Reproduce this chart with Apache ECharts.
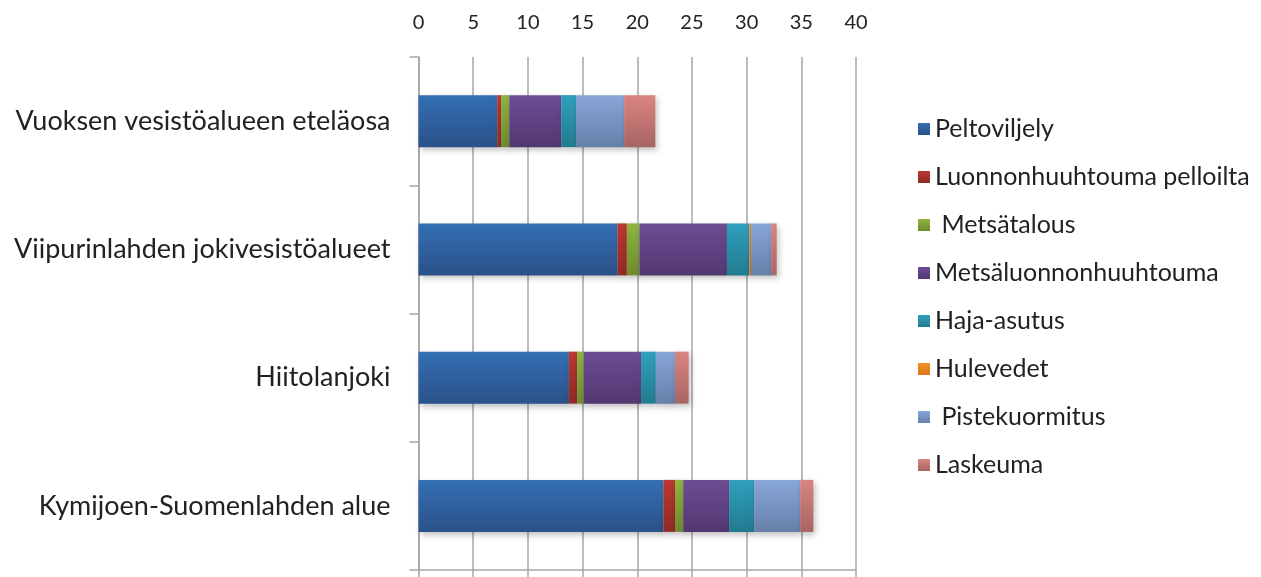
<!DOCTYPE html>
<html>
<head>
<meta charset="utf-8">
<script src="https://cdn.jsdelivr.net/npm/echarts@6/dist/echarts.min.js"></script>
<style>html,body{margin:0;padding:0;background:#fff}#c{width:1261px;height:577px}</style>
</head>
<body>
<div id="c"></div>
<script>
const categories = ['Vuoksen vesistöalueen eteläosa', 'Viipurinlahden jokivesistöalueet', 'Hiitolanjoki', 'Kymijoen-Suomenlahden alue'];
const seriesNames = ['Peltoviljely', 'Luonnonhuuhtouma pelloilta', ' Metsätalous', 'Metsäluonnonhuuhtouma', 'Haja-asutus', 'Hulevedet', ' Pistekuormitus', 'Laskeuma'];
const peltoviljely = [7.2, 18.2, 13.75, 22.4];
const luonnonhuuhtouma = [0.35, 0.85, 0.75, 1.05];
const metsatalous = [0.75, 1.15, 0.6, 0.75];
const metsaluonnon = [4.75, 8.0, 5.25, 4.2];
const hajaasutus = [1.35, 2.05, 1.35, 2.3];
const hulevedet = [0, 0.15, 0, 0];
const pistekuormitus = [4.4, 1.85, 1.75, 4.2];
const laskeuma = [2.85, 0.5, 1.25, 1.2];
const valueTicks = [0, 5, 10, 15, 20, 25, 30, 35, 40];

const seriesData = [peltoviljely, luonnonhuuhtouma, metsatalous, metsaluonnon, hajaasutus, hulevedet, pistekuormitus, laskeuma];
const gradients = [
  ['#346fb4', '#2a5189'],
  ['#bd3731', '#8f2a27'],
  ['#8db53e', '#6f8b2f'],
  ['#6e4c94', '#523870'],
  ['#2fa0bd', '#227b90'],
  ['#f5901f', '#d9761a'],
  ['#88a6d8', '#6680aa'],
  ['#da8480', '#a86563']
];
const FONT = 'Lato';
const chart = echarts.init(document.getElementById('c'));
chart.setOption({
  animation: false,
  backgroundColor: '#fff',
  textStyle: { fontFamily: FONT },
  grid: { left: 418.5, right: 1261 - 856, top: 57, bottom: 7, containLabel: false },
  legend: {
    orient: 'vertical', left: 913, top: 111.5,
    itemWidth: 12, itemHeight: 12, itemGap: 23,
    icon: 'rect',
    textStyle: { fontFamily: FONT, fontSize: 25, color: '#222', lineHeight: 25, padding: [0, 0, 0, 0] },
    data: seriesNames
  },
  xAxis: [{
    type: 'value', position: 'top', min: 0, max: 40, interval: 5,
    axisLine: { show: false }, axisTick: { show: false },
    axisLabel: { fontFamily: FONT, fontSize: 20, color: '#222', margin: 24,
      formatter: v => valueTicks.includes(v) ? String(v) : '' },
    splitLine: { show: true, lineStyle: { color: '#a6a6a6', width: 1.5 } }
  }, {
    type: 'value', position: 'bottom', min: 0, max: 40, interval: 5,
    axisLine: { show: true, lineStyle: { color: '#a6a6a6', width: 1.5 } },
    axisTick: { show: true, length: 7, lineStyle: { color: '#a6a6a6', width: 1.5 } },
    axisLabel: { show: false }, splitLine: { show: false }
  }],
  yAxis: {
    type: 'category', inverse: true, data: categories,
    axisLine: { show: true, lineStyle: { color: '#a6a6a6', width: 1.5 } },
    axisTick: { show: true, length: 9, lineStyle: { color: '#a6a6a6', width: 1.5 } },
    axisLabel: { fontFamily: FONT, fontSize: 27, color: '#222', margin: 28 }
  },
  series: seriesNames.map((name, i) => ({
    name, type: 'bar', stack: 'total', barWidth: 52, xAxisIndex: 0,
    data: seriesData[i],
    itemStyle: {
      color: { type: 'linear', x: 0, y: 0, x2: 0, y2: 1,
        colorStops: [{ offset: 0, color: gradients[i][0] }, { offset: 1, color: gradients[i][1] }] },
      shadowColor: 'rgba(0,0,0,0.25)', shadowBlur: 6, shadowOffsetX: 2, shadowOffsetY: 3
    }
  }))
});
</script>
</body>
</html>
